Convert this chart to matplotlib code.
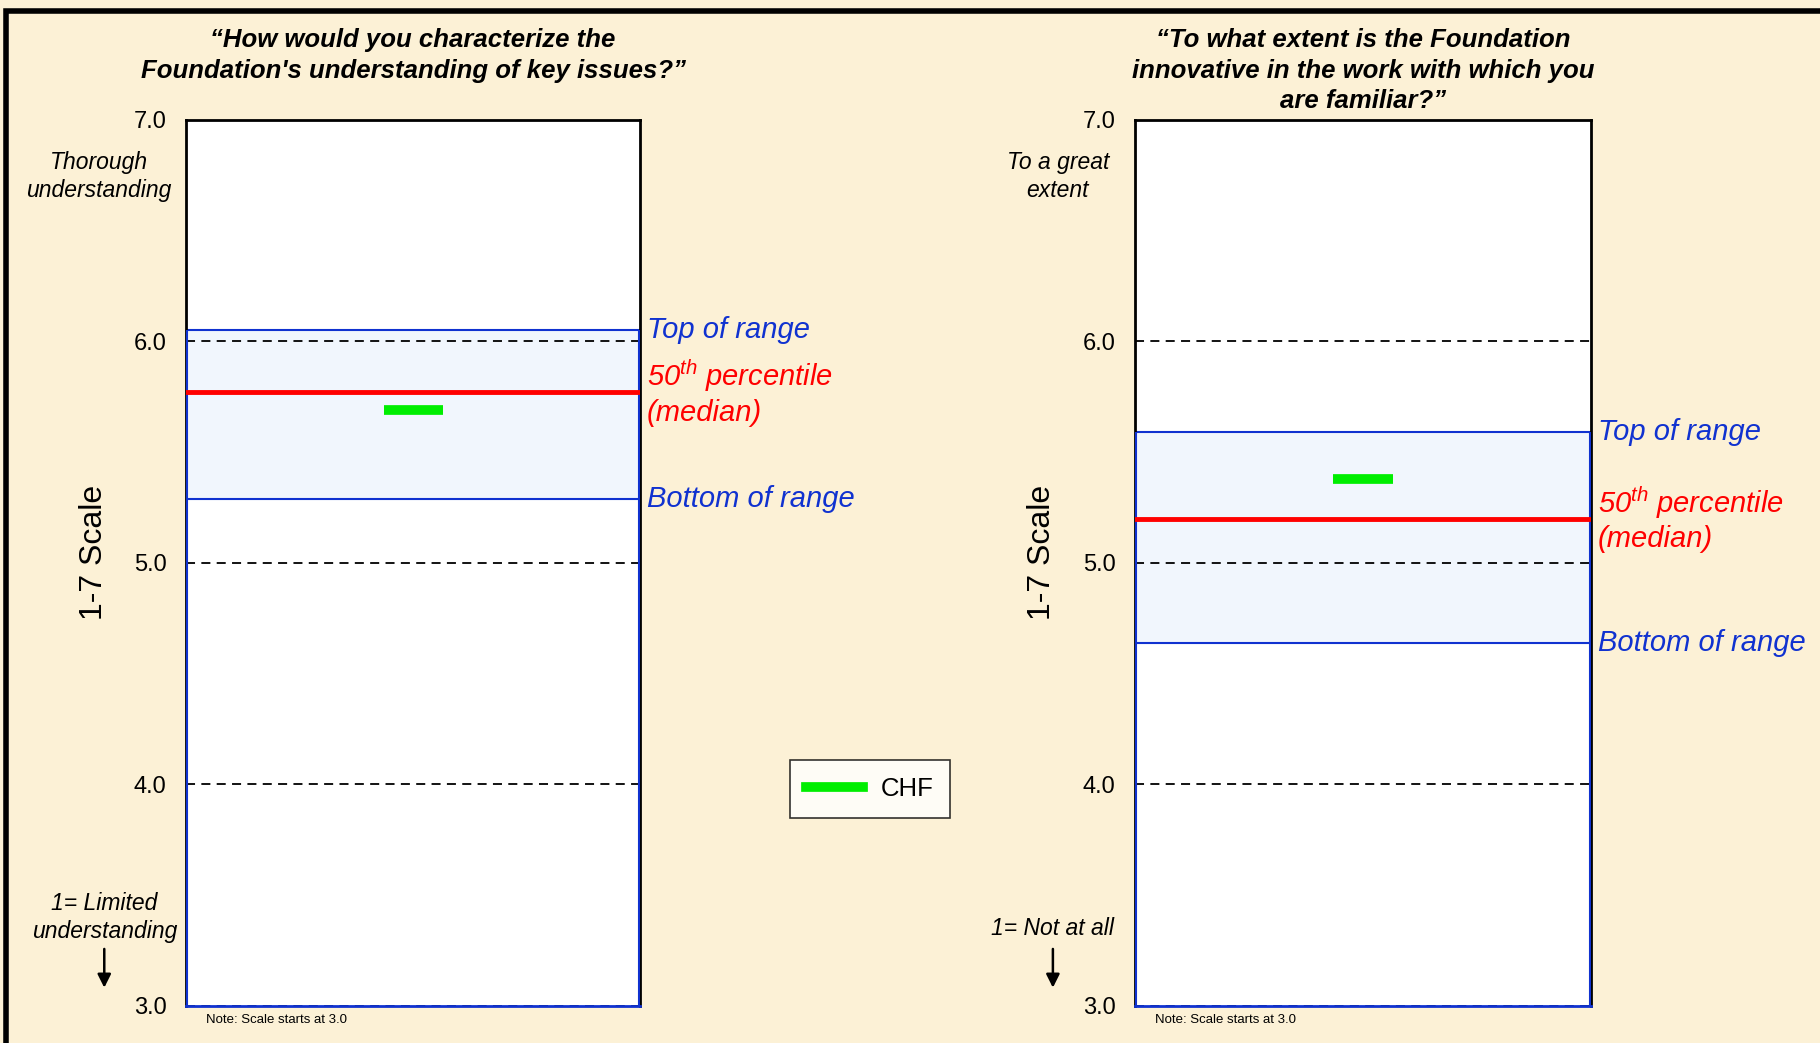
import matplotlib
matplotlib.use('Agg')
import matplotlib.pyplot as plt
from matplotlib.patches import Rectangle
from matplotlib.lines import Line2D

plt.rcParams['font.family'] = ['Liberation Sans', 'DejaVu Sans']
plt.rcParams['mathtext.fontset'] = 'custom'
plt.rcParams['mathtext.rm'] = 'Liberation Sans'
plt.rcParams['mathtext.it'] = 'Liberation Sans:italic'

# Данные по двум вопросам
questions = ['\u201cHow would you characterize the\nFoundation\'s understanding of key issues?\u201d',
             '\u201cTo what extent is the Foundation\ninnovative in the work with which you\nare familiar?\u201d']
top_labels = ['Thorough\nunderstanding', 'To a great\nextent']
bottom_labels = ['1= Limited\nunderstanding', '1= Not at all']
chf = [5.69, 5.38]
median = [5.77, 5.20]
range_top = [6.05, 5.59]
range_bottom = [5.29, 4.64]
yticks = [3.0, 4.0, 5.0, 6.0, 7.0]

bg = '#FCF1D6'
blue = '#1032D0'
red = '#FF0000'
green = '#00EE00'

fig = plt.figure(figsize=(18.2, 10.43), dpi=100)
fig.patch.set_facecolor(bg)
# рамка слева и сверху
fig.add_artist(Rectangle((6 / 1820, -0.2), 1.2, 1.2 - 11 / 1043, transform=fig.transFigure,
                         facecolor='none', edgecolor='black', lw=4))

positions = [[0.1022, 0.0355, 0.2495, 0.8495], [0.6236, 0.0355, 0.2505, 0.8495]]
top_x = [-0.192, -0.169]
bottom_y = [3.40, 3.35]

for i, pos in enumerate(positions):
    ax = fig.add_axes(pos)
    ax.set_facecolor('white')
    ax.set_xlim(0, 1)
    ax.set_ylim(3, 7)
    ax.set_xticks([])
    ax.set_yticks(yticks)
    ax.set_yticklabels([f'{t:.1f}' for t in yticks], fontsize=17)
    ax.tick_params(axis='y', length=0, pad=14)
    for s in ax.spines.values():
        s.set_color('black')
        s.set_linewidth(2)
    ax.spines['bottom'].set_color(blue)

    # диапазон
    ax.axhspan(range_bottom[i], range_top[i], color='#F1F6FD', zorder=0)
    ax.axhline(range_top[i], color=blue, lw=1.5, zorder=2)
    ax.axhline(range_bottom[i], color=blue, lw=1.5, zorder=2)
    ax.vlines([0.002, 0.998], 3, range_top[i], color=blue, lw=1.5, zorder=3)

    for t in yticks:
        ax.axhline(t, color='black', lw=1.3, ls=(0, (5, 3.5)), zorder=1)

    ax.axhline(median[i], color=red, lw=3.5, zorder=4)
    ax.hlines(chf[i], 0.435, 0.565, color=green, lw=7, zorder=5)

    lab = dict(xycoords=('axes fraction', 'data'), textcoords='offset points',
               fontsize=21, style='italic', va='center', ha='left', annotation_clip=False)
    ax.annotate('Top of range', xy=(1, range_top[i]), xytext=(5, 0), color=blue, **lab)
    ax.annotate('50$^{\\mathit{th}}$ percentile\n(median)', xy=(1, median[i]), xytext=(5, 0),
                color=red, linespacing=1.2, **lab)
    ax.annotate('Bottom of range', xy=(1, range_bottom[i]), xytext=(5, 0), color=blue, **lab)

    ax.set_ylabel('1-7 Scale', fontsize=23)
    ax.yaxis.set_label_coords(-0.17, 0.512)

    # заголовок-вопрос над графиком
    fig.text(pos[0] + pos[2] / 2, 1 - 28 / 1043, questions[i], ha='center', va='top',
             fontsize=18.5, fontweight='bold', style='italic', linespacing=1.35)

    ax.text(top_x[i], 6.745, top_labels[i], transform=ax.get_yaxis_transform(), ha='center',
            va='center', fontsize=16.5, style='italic', linespacing=1.25)
    ax.text(-0.18, bottom_y[i], bottom_labels[i],
            transform=ax.get_yaxis_transform(), ha='center', va='center',
            fontsize=16.5, style='italic', linespacing=1.25)
    ax.annotate('', xy=(-0.18, 3.07), xytext=(-0.18, 3.27),
                xycoords=ax.get_yaxis_transform(),
                arrowprops=dict(arrowstyle='-|>', color='black', lw=1.8, mutation_scale=20))
    ax.text(0.045, -0.016, 'Note: Scale starts at 3.0', transform=ax.transAxes,
            fontsize=9.5, va='center', ha='left')

# легенда
handle = Line2D([], [], color=green, lw=7)
leg = fig.legend([handle], ['CHF'], loc='center', bbox_to_anchor=(870 / 1820, 1 - 789 / 1043),
                 fontsize=18.5, frameon=True, fancybox=False, handlelength=2.2,
                 borderpad=0.65, handletextpad=0.7, edgecolor='black')
leg.get_frame().set_linewidth(1.2)

fig.savefig('out.png', dpi=100, facecolor=bg)
